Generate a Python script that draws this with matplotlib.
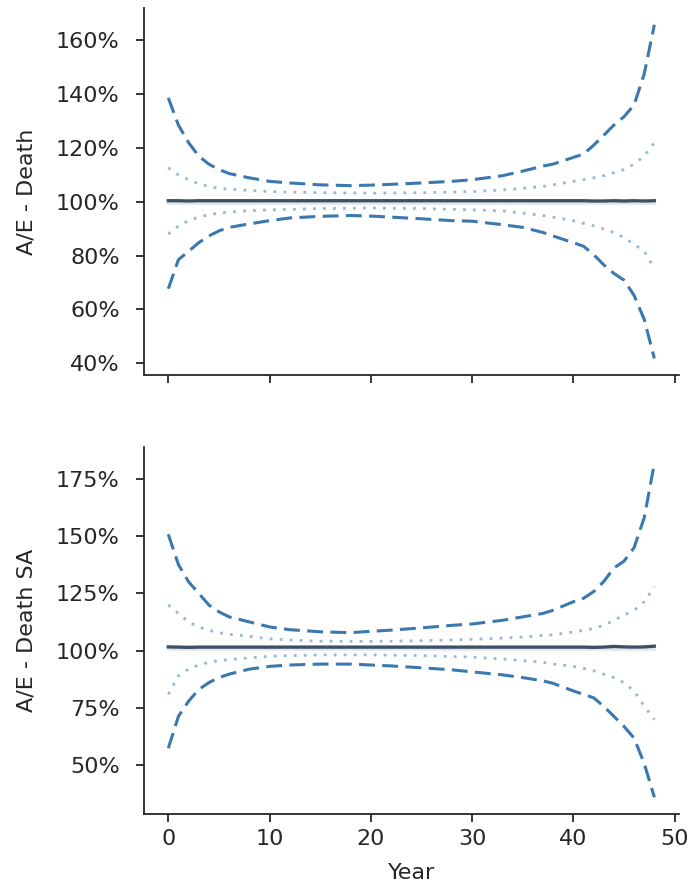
import matplotlib
matplotlib.use("Agg")
import matplotlib.pyplot as plt
from matplotlib.ticker import PercentFormatter

years = [0, 1, 2, 3, 4, 5, 6, 8, 10, 12, 15, 18, 20, 22, 25, 28, 30, 33, 35, 37, 38, 40, 41, 42, 43, 44, 45, 46, 47, 48]

# Panel 1: A/E - Death
death_center = [100.4, 100.4, 100.3, 100.4, 100.4, 100.4, 100.4, 100.4, 100.4, 100.4, 100.4, 100.4, 100.4, 100.4, 100.4,
                100.4, 100.4, 100.4, 100.4, 100.4, 100.4, 100.4, 100.4, 100.3, 100.3, 100.4, 100.3, 100.4, 100.3, 100.4]
death_base = [99.4] * 30
death_upper95 = [138.6, 128.5, 122, 117, 114, 112, 110.5, 108.9, 107.6, 107, 106.3, 106, 106.2, 106.5, 107, 107.6, 108.2, 109.7, 111.4, 113.3, 114, 116.5, 117.7, 121, 124.7, 128.5, 131.6, 136, 147.5, 165.8]
death_lower95 = [67.7, 78.5, 81.6, 84.8, 87.3, 89.2, 90.5, 91.8, 93, 94, 94.6, 94.9, 94.7, 94.3, 93.7, 93, 92.8, 91.5, 90.5, 88.6, 87.3, 84.8, 83.5, 80.4, 76.6, 73.4, 70.9, 65.2, 56.3, 41.8]
death_upper50 = [112.7, 110, 108.2, 106.7, 105.7, 105, 104.7, 104.2, 103.8, 103.6, 103.4, 103.3, 103.2, 103.3, 103.4, 103.6, 103.8, 104.4, 105, 105.7, 106.3, 107.6, 108.2, 108.9, 109.7, 110.8, 112, 114, 117, 122]
death_lower50 = [88, 91, 93, 94.3, 95.2, 95.8, 96.2, 96.7, 97, 97.2, 97.5, 97.6, 97.7, 97.6, 97.5, 97.2, 97, 96.6, 95.8, 94.9, 94.3, 93, 92, 91.1, 89.9, 88.6, 86.7, 84.2, 81.6, 75.3]

# Panel 2: A/E - Death SA
sa_center = [101.6, 101.5, 101.4, 101.5, 101.5, 101.5, 101.5, 101.5, 101.5, 101.5, 101.5, 101.5, 101.5, 101.5, 101.5,
             101.5, 101.5, 101.5, 101.5, 101.5, 101.5, 101.5, 101.5, 101.4, 101.5, 101.8, 101.6, 101.5, 101.6, 101.9]
sa_base = [100.5] * 30
sa_upper95 = [150.7, 137.5, 130, 125, 119.9, 116.9, 114.7, 112.5, 110.3, 109.1, 108.2, 107.8, 108.4, 108.9, 109.9, 111, 111.6, 113.2, 114.7, 116.2, 117.6, 121.3, 122.8, 125.7, 130.1, 136, 139, 144.9, 158, 181.6]
sa_lower95 = [57.4, 71.3, 77.9, 83, 86, 88.2, 89.7, 91.9, 93.1, 93.7, 94.1, 94.1, 93.7, 93.3, 92.5, 91.6, 90.7, 89.4, 88.2, 86.8, 85.7, 82.4, 80.9, 79.4, 75.7, 71.3, 66.9, 61.8, 50.7, 36]
sa_upper50 = [119.9, 116.2, 112.5, 110.3, 108.8, 107.8, 107.1, 106.2, 105.1, 104.6, 104.1, 104, 104, 104.1, 104.3, 104.6, 104.9, 105.4, 105.9, 106.6, 106.9, 108.1, 108.8, 109.6, 111, 113.2, 115.4, 117.6, 121.3, 127.9]
sa_lower50 = [80.9, 89, 91.9, 93.7, 94.9, 95.6, 96.1, 96.8, 97.5, 97.8, 98.1, 98.1, 98.1, 98, 97.8, 97.4, 97.1, 96.3, 95.6, 94.9, 94.1, 93.1, 92.2, 91.2, 89.7, 88.2, 86, 82.4, 75.7, 69.9]

ylabels = ["A/E - Death", "A/E - Death SA"]
xlabel = "Year"

plt.rcParams['font.family'] = ['DejaVu Sans']
fig = plt.figure(figsize=(6.89, 8.89), dpi=100)
ax1 = fig.add_axes([0.209, 0.578, 0.776, 0.413])
ax2 = fig.add_axes([0.209, 0.0844, 0.776, 0.413], sharex=ax1)

dash_c = '#3a78af'
dot_c = '#96b8d8'
center_c = '#3c5165'
txt_c = '#262626'

panels = [
    (ax1, death_center, death_base, death_upper95, death_lower95, death_upper50, death_lower50, [40, 60, 80, 100, 120, 140, 160]),
    (ax2, sa_center, sa_base, sa_upper95, sa_lower95, sa_upper50, sa_lower50, [50, 75, 100, 125, 150, 175]),
]
for ax, cen, base, u95, l95, u50, l50, yt in panels:
    ax.plot(years, base, color='#dde1e6', lw=2, alpha=0.8)
    ax.plot(years, u95, color=dash_c, lw=2.2, ls=(0, (5.2, 2.4)))
    ax.plot(years, l95, color=dash_c, lw=2.2, ls=(0, (5.2, 2.4)))
    ax.plot(years, u50, color=dot_c, lw=2.0, ls=(0, (1, 2.6)))
    ax.plot(years, l50, color=dot_c, lw=2.0, ls=(0, (1, 2.6)))
    ax.plot(years, cen, color=center_c, lw=2.4)
    ax.set_yticks(yt)
    ax.yaxis.set_major_formatter(PercentFormatter(decimals=0))
    for s in ['top', 'right']:
        ax.spines[s].set_visible(False)
    for s in ['left', 'bottom']:
        ax.spines[s].set_color(txt_c)
        ax.spines[s].set_linewidth(1.3)
    ax.tick_params(labelsize=16, length=6, width=1.3, color=txt_c, labelcolor=txt_c)
    ax.tick_params(axis='y', pad=11.5)
    ax.tick_params(axis='x', pad=5)

ax1.set_ylabel(ylabels[0], fontsize=16, color=txt_c, labelpad=14)
ax2.set_ylabel(ylabels[1], fontsize=16, color=txt_c, labelpad=14)
ax2.set_xlabel(xlabel, fontsize=16, color=txt_c, labelpad=10)
ax1.tick_params(labelbottom=False)
ax2.set_xticks([0, 10, 20, 30, 40, 50])

fig.savefig("out.png", dpi=100)
